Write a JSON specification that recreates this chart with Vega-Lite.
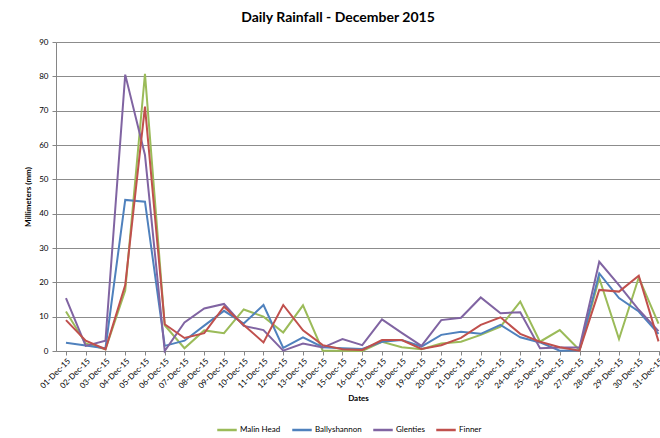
{
  "$schema": "https://vega.github.io/schema/vega-lite/v6.json",
  "autosize": "none",
  "padding": {"left": 56, "top": 42, "right": 0, "bottom": 87},
  "width": 604,
  "height": 309,
  "background": "white",
  "config": {
    "font": "Lato",
    "view": {"stroke": null},
    "axis": {"labelFont": "Lato", "titleFont": "Lato"},
    "legend": {"labelFont": "Lato"}
  },
  "title": {
    "text": "Daily Rainfall - December 2015",
    "font": "Lato",
    "fontSize": 14,
    "fontWeight": "bold",
    "color": "#000000",
    "anchor": "middle",
    "dx": -20,
    "offset": 13
  },
  "data": {
    "values": [
      {"date": "01-Dec-15", "station": "Malin Head", "mm": 11.5},
      {"date": "02-Dec-15", "station": "Malin Head", "mm": 2.2},
      {"date": "03-Dec-15", "station": "Malin Head", "mm": 0.5},
      {"date": "04-Dec-15", "station": "Malin Head", "mm": 17.6},
      {"date": "05-Dec-15", "station": "Malin Head", "mm": 80.7},
      {"date": "06-Dec-15", "station": "Malin Head", "mm": 7.5},
      {"date": "07-Dec-15", "station": "Malin Head", "mm": 0.8},
      {"date": "08-Dec-15", "station": "Malin Head", "mm": 6.0},
      {"date": "09-Dec-15", "station": "Malin Head", "mm": 5.2},
      {"date": "10-Dec-15", "station": "Malin Head", "mm": 12.1},
      {"date": "11-Dec-15", "station": "Malin Head", "mm": 10.0},
      {"date": "12-Dec-15", "station": "Malin Head", "mm": 5.4},
      {"date": "13-Dec-15", "station": "Malin Head", "mm": 13.3},
      {"date": "14-Dec-15", "station": "Malin Head", "mm": 0.1},
      {"date": "15-Dec-15", "station": "Malin Head", "mm": 0.1},
      {"date": "16-Dec-15", "station": "Malin Head", "mm": 0.0},
      {"date": "17-Dec-15", "station": "Malin Head", "mm": 2.7},
      {"date": "18-Dec-15", "station": "Malin Head", "mm": 1.1},
      {"date": "19-Dec-15", "station": "Malin Head", "mm": 0.5},
      {"date": "20-Dec-15", "station": "Malin Head", "mm": 2.2},
      {"date": "21-Dec-15", "station": "Malin Head", "mm": 2.7},
      {"date": "22-Dec-15", "station": "Malin Head", "mm": 4.7},
      {"date": "23-Dec-15", "station": "Malin Head", "mm": 7.1},
      {"date": "24-Dec-15", "station": "Malin Head", "mm": 14.4},
      {"date": "25-Dec-15", "station": "Malin Head", "mm": 2.7},
      {"date": "26-Dec-15", "station": "Malin Head", "mm": 6.1},
      {"date": "27-Dec-15", "station": "Malin Head", "mm": 0.3},
      {"date": "28-Dec-15", "station": "Malin Head", "mm": 21.2},
      {"date": "29-Dec-15", "station": "Malin Head", "mm": 3.5},
      {"date": "30-Dec-15", "station": "Malin Head", "mm": 21.4},
      {"date": "31-Dec-15", "station": "Malin Head", "mm": 8.0},

      {"date": "01-Dec-15", "station": "Ballyshannon", "mm": 2.4},
      {"date": "02-Dec-15", "station": "Ballyshannon", "mm": 1.6},
      {"date": "03-Dec-15", "station": "Ballyshannon", "mm": 0.8},
      {"date": "04-Dec-15", "station": "Ballyshannon", "mm": 44.0},
      {"date": "05-Dec-15", "station": "Ballyshannon", "mm": 43.5},
      {"date": "06-Dec-15", "station": "Ballyshannon", "mm": 1.5},
      {"date": "07-Dec-15", "station": "Ballyshannon", "mm": 3.0},
      {"date": "08-Dec-15", "station": "Ballyshannon", "mm": 7.4},
      {"date": "09-Dec-15", "station": "Ballyshannon", "mm": 11.7},
      {"date": "10-Dec-15", "station": "Ballyshannon", "mm": 8.0},
      {"date": "11-Dec-15", "station": "Ballyshannon", "mm": 13.4},
      {"date": "12-Dec-15", "station": "Ballyshannon", "mm": 0.9},
      {"date": "13-Dec-15", "station": "Ballyshannon", "mm": 4.0},
      {"date": "14-Dec-15", "station": "Ballyshannon", "mm": 1.1},
      {"date": "15-Dec-15", "station": "Ballyshannon", "mm": 0.8},
      {"date": "16-Dec-15", "station": "Ballyshannon", "mm": 0.6},
      {"date": "17-Dec-15", "station": "Ballyshannon", "mm": 2.7},
      {"date": "18-Dec-15", "station": "Ballyshannon", "mm": 3.2},
      {"date": "19-Dec-15", "station": "Ballyshannon", "mm": 1.3},
      {"date": "20-Dec-15", "station": "Ballyshannon", "mm": 4.7},
      {"date": "21-Dec-15", "station": "Ballyshannon", "mm": 5.6},
      {"date": "22-Dec-15", "station": "Ballyshannon", "mm": 5.0},
      {"date": "23-Dec-15", "station": "Ballyshannon", "mm": 7.6},
      {"date": "24-Dec-15", "station": "Ballyshannon", "mm": 4.0},
      {"date": "25-Dec-15", "station": "Ballyshannon", "mm": 2.5},
      {"date": "26-Dec-15", "station": "Ballyshannon", "mm": 0.1},
      {"date": "27-Dec-15", "station": "Ballyshannon", "mm": 0.2},
      {"date": "28-Dec-15", "station": "Ballyshannon", "mm": 22.6},
      {"date": "29-Dec-15", "station": "Ballyshannon", "mm": 15.4},
      {"date": "30-Dec-15", "station": "Ballyshannon", "mm": 11.5},
      {"date": "31-Dec-15", "station": "Ballyshannon", "mm": 5.0},

      {"date": "01-Dec-15", "station": "Glenties", "mm": 15.4},
      {"date": "02-Dec-15", "station": "Glenties", "mm": 1.5},
      {"date": "03-Dec-15", "station": "Glenties", "mm": 3.0},
      {"date": "04-Dec-15", "station": "Glenties", "mm": 80.5},
      {"date": "05-Dec-15", "station": "Glenties", "mm": 57.1},
      {"date": "06-Dec-15", "station": "Glenties", "mm": 0.0},
      {"date": "07-Dec-15", "station": "Glenties", "mm": 8.3},
      {"date": "08-Dec-15", "station": "Glenties", "mm": 12.4},
      {"date": "09-Dec-15", "station": "Glenties", "mm": 13.7},
      {"date": "10-Dec-15", "station": "Glenties", "mm": 7.3},
      {"date": "11-Dec-15", "station": "Glenties", "mm": 6.1},
      {"date": "12-Dec-15", "station": "Glenties", "mm": 0.1},
      {"date": "13-Dec-15", "station": "Glenties", "mm": 2.2},
      {"date": "14-Dec-15", "station": "Glenties", "mm": 1.0},
      {"date": "15-Dec-15", "station": "Glenties", "mm": 3.5},
      {"date": "16-Dec-15", "station": "Glenties", "mm": 1.7},
      {"date": "17-Dec-15", "station": "Glenties", "mm": 9.2},
      {"date": "18-Dec-15", "station": "Glenties", "mm": 5.3},
      {"date": "19-Dec-15", "station": "Glenties", "mm": 1.5},
      {"date": "20-Dec-15", "station": "Glenties", "mm": 9.0},
      {"date": "21-Dec-15", "station": "Glenties", "mm": 9.7},
      {"date": "22-Dec-15", "station": "Glenties", "mm": 15.6},
      {"date": "23-Dec-15", "station": "Glenties", "mm": 11.0},
      {"date": "24-Dec-15", "station": "Glenties", "mm": 11.3},
      {"date": "25-Dec-15", "station": "Glenties", "mm": 0.8},
      {"date": "26-Dec-15", "station": "Glenties", "mm": 1.0},
      {"date": "27-Dec-15", "station": "Glenties", "mm": 1.0},
      {"date": "28-Dec-15", "station": "Glenties", "mm": 26.0},
      {"date": "29-Dec-15", "station": "Glenties", "mm": 19.2},
      {"date": "30-Dec-15", "station": "Glenties", "mm": 12.0},
      {"date": "31-Dec-15", "station": "Glenties", "mm": 5.8},

      {"date": "01-Dec-15", "station": "Finner", "mm": 9.0},
      {"date": "02-Dec-15", "station": "Finner", "mm": 3.0},
      {"date": "03-Dec-15", "station": "Finner", "mm": 0.5},
      {"date": "04-Dec-15", "station": "Finner", "mm": 19.2},
      {"date": "05-Dec-15", "station": "Finner", "mm": 71.2},
      {"date": "06-Dec-15", "station": "Finner", "mm": 7.8},
      {"date": "07-Dec-15", "station": "Finner", "mm": 3.8},
      {"date": "08-Dec-15", "station": "Finner", "mm": 5.2},
      {"date": "09-Dec-15", "station": "Finner", "mm": 12.9},
      {"date": "10-Dec-15", "station": "Finner", "mm": 7.6},
      {"date": "11-Dec-15", "station": "Finner", "mm": 2.5},
      {"date": "12-Dec-15", "station": "Finner", "mm": 13.4},
      {"date": "13-Dec-15", "station": "Finner", "mm": 6.0},
      {"date": "14-Dec-15", "station": "Finner", "mm": 1.7},
      {"date": "15-Dec-15", "station": "Finner", "mm": 0.5},
      {"date": "16-Dec-15", "station": "Finner", "mm": 0.3},
      {"date": "17-Dec-15", "station": "Finner", "mm": 3.2},
      {"date": "18-Dec-15", "station": "Finner", "mm": 3.2},
      {"date": "19-Dec-15", "station": "Finner", "mm": 0.6},
      {"date": "20-Dec-15", "station": "Finner", "mm": 1.7},
      {"date": "21-Dec-15", "station": "Finner", "mm": 3.8},
      {"date": "22-Dec-15", "station": "Finner", "mm": 7.6},
      {"date": "23-Dec-15", "station": "Finner", "mm": 9.8},
      {"date": "24-Dec-15", "station": "Finner", "mm": 5.0},
      {"date": "25-Dec-15", "station": "Finner", "mm": 2.7},
      {"date": "26-Dec-15", "station": "Finner", "mm": 1.1},
      {"date": "27-Dec-15", "station": "Finner", "mm": 0.1},
      {"date": "28-Dec-15", "station": "Finner", "mm": 17.8},
      {"date": "29-Dec-15", "station": "Finner", "mm": 17.3},
      {"date": "30-Dec-15", "station": "Finner", "mm": 21.9},
      {"date": "31-Dec-15", "station": "Finner", "mm": 2.8}
    ]
  },
  "mark": {"type": "line", "strokeWidth": 2, "clip": false},
  "encoding": {
    "x": {
      "field": "date",
      "type": "ordinal",
      "sort": null,
      "scale": {"type": "point", "padding": 0.29, "align": 0.87},
      "axis": {
        "title": "Dates",
        "titleFontSize": 8,
        "titleFontWeight": "bold",
        "titleColor": "#000000",
        "titlePadding": 5,
        "labelAngle": -45,
        "labelFontSize": 8,
        "labelColor": "#000000",
        "labelPadding": 2,
        "domainColor": "#868686",
        "tickColor": "#868686",
        "tickSize": 4,
        "grid": false
      }
    },
    "y": {
      "field": "mm",
      "type": "quantitative",
      "scale": {"domain": [0, 90], "nice": false},
      "axis": {
        "title": "Millimeters (mm)",
        "titleFontSize": 8,
        "titleFontWeight": "bold",
        "titleColor": "#000000",
        "titlePadding": 6,
        "values": [0, 10, 20, 30, 40, 50, 60, 70, 80, 90],
        "labelFontSize": 8,
        "labelColor": "#000000",
        "labelPadding": 4,
        "domainColor": "#868686",
        "tickColor": "#868686",
        "tickSize": 4,
        "grid": true,
        "gridColor": "#8c8c8c",
        "gridWidth": 1
      }
    },
    "color": {
      "field": "station",
      "type": "nominal",
      "sort": null,
      "scale": {
        "domain": ["Malin Head", "Ballyshannon", "Glenties", "Finner"],
        "range": ["#9BBB59", "#4F81BD", "#8064A2", "#C0504D"]
      },
      "legend": {
        "title": null,
        "orient": "none",
        "legendX": 160,
        "legendY": 377,
        "direction": "horizontal",
        "symbolType": "stroke",
        "symbolSize": 380,
        "symbolStrokeWidth": 2.5,
        "labelFontSize": 8,
        "labelColor": "#000000",
        "labelOffset": 2,
        "columnPadding": 6
      }
    }
  }
}
